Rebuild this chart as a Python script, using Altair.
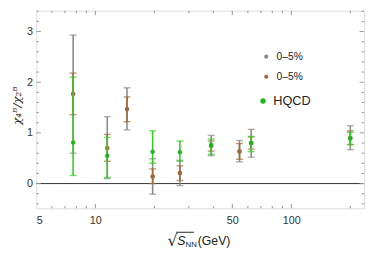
import altair as alt
import pandas as pd

# ---- data ----
energy = [7.7, 11.5, 14.5, 19.6, 27, 39, 54.4, 62.4, 200]

gray_val = [1.77, 0.70, 1.47, 0.14, 0.21, 0.75, 0.64, 0.80, 0.90]
gray_lo = [0.60, 0.10, 1.06, -0.21, -0.04, 0.55, 0.43, 0.52, 0.67]
gray_hi = [2.93, 1.32, 1.89, 0.49, 0.46, 0.95, 0.85, 1.07, 1.14]

brown_val = [1.77, 0.70, 1.47, 0.14, 0.21, 0.74, 0.63, 0.80, 0.90]
brown_lo = [1.36, 0.44, 1.22, 0.00, 0.06, 0.64, 0.48, 0.68, 0.77]
brown_hi = [2.18, 0.97, 1.71, 0.29, 0.35, 0.84, 0.79, 0.92, 1.04]

green_energy = [7.7, 11.5, 19.6, 27, 39, 62.4, 200]
green_val = [0.81, 0.55, 0.63, 0.62, 0.76, 0.80, 0.89]
green_lo = [0.16, 0.12, 0.40, 0.44, 0.58, 0.63, 0.77]
green_hi = [2.10, 0.91, 1.04, 0.84, 0.88, 0.93, 1.01]

legend_labels = ["0\u20135%", "0\u20135%", "HQCD"]

x_major = [10, 50, 100]
x_minor = [6, 7, 8, 9, 20, 30, 40, 60, 70, 80, 90, 200]
x_labels = [5, 10, 50, 100]
y_major = [0, 1, 2, 3]
y_minor = [-0.4, -0.2, 0.2, 0.4, 0.6, 0.8, 1.2, 1.4, 1.6, 1.8, 2.2, 2.4, 2.6, 2.8, 3.2, 3.4]

# ---- styling ----
W, H = 335, 202
GRAY = "#8a8a8a"
BROWN = "#a0693a"
GREEN_BAR = "#33cc22"
GREEN_DOT = "#1db61d"
FONT = "Liberation Sans"

xscale = alt.Scale(type="log", domain=[5, 235], nice=False, zero=False)
yscale = alt.Scale(domain=[-0.488, 3.411], nice=False, zero=False)
xaxis = alt.Axis(values=x_labels, format="d", ticks=False, domain=False, grid=False,
                 labelFontSize=11, labelColor="#333333", labelPadding=7, labelFont=FONT,
                 title=None)
yaxis = alt.Axis(values=y_major, format="d", ticks=False, domain=False, grid=False,
                 labelFontSize=11, labelColor="#333333", labelPadding=4, labelFont=FONT,
                 title=None)


def X(field):
    return alt.X(field, type="quantitative", scale=xscale, axis=xaxis)


def Y(field):
    return alt.Y(field, type="quantitative", scale=yscale, axis=yaxis)


def series(xs, val, lo, hi, bar_color, dot_color):
    df = pd.DataFrame({"e": xs, "v": val, "lo": lo, "hi": hi})
    base = alt.Chart(df)
    bar = base.mark_rule(color=bar_color, strokeWidth=1.6).encode(x=X("e"), y=Y("lo"), y2="hi")
    cap_hi = base.mark_tick(color=bar_color, orient="horizontal", size=7, thickness=1.4).encode(x=X("e"), y=Y("hi"))
    cap_lo = base.mark_tick(color=bar_color, orient="horizontal", size=7, thickness=1.4).encode(x=X("e"), y=Y("lo"))
    dot = base.mark_point(filled=True, color=dot_color, size=20, opacity=1).encode(x=X("e"), y=Y("v"))
    return [bar, cap_hi, cap_lo, dot]


layers = []

# zero line
zero_df = pd.DataFrame({"v": [0]})
layers.append(alt.Chart(zero_df).mark_rule(color="#333333", strokeWidth=1).encode(y=Y("v")))


# inward frame ticks
def xticks(vals, length):
    d = alt.Chart(pd.DataFrame({"t": vals}))
    return [
        d.mark_rule(color="#999999", strokeWidth=1).encode(x=X("t"), y=alt.value(H), y2=alt.value(H - length)),
        d.mark_rule(color="#999999", strokeWidth=1).encode(x=X("t"), y=alt.value(0), y2=alt.value(length)),
    ]


def yticks(vals, length):
    d = alt.Chart(pd.DataFrame({"t": vals}))
    return [
        d.mark_rule(color="#999999", strokeWidth=1).encode(y=Y("t"), x=alt.value(0), x2=alt.value(length)),
        d.mark_rule(color="#999999", strokeWidth=1).encode(y=Y("t"), x=alt.value(W), x2=alt.value(W - length)),
    ]


layers += xticks(x_major, 4.5) + xticks(x_minor, 2.5)
layers += yticks(y_major, 4.5) + yticks(y_minor, 2.5)

layers += series(energy, gray_val, gray_lo, gray_hi, GRAY, GRAY)
layers += series(energy, brown_val, brown_lo, brown_hi, BROWN, BROWN)
layers += series(green_energy, green_val, green_lo, green_hi, GREEN_BAR, GREEN_DOT)

# legend
one = pd.DataFrame({"a": [0]})
leg_y = [47, 67.5, 92.3]
leg_x = [235, 235, 231.7]
leg_col = [GRAY, BROWN, GREEN_DOT]
leg_size = [18, 18, 30]
leg_fs = [10.5, 10.5, 13]
for lab, lx, ly, lc, ls, fs in zip(legend_labels, leg_x, leg_y, leg_col, leg_size, leg_fs):
    layers.append(alt.Chart(one).mark_point(filled=True, color=lc, size=ls, opacity=1)
                  .encode(x=alt.value(lx), y=alt.value(ly)))
    layers.append(alt.Chart(one).mark_text(align="left", baseline="middle", fontSize=fs, font=FONT,
                                           color="#222222")
                  .encode(x=alt.value(lx + 10.5), y=alt.value(ly), text=alt.value(lab)))

# y title
layers.append(alt.Chart(one).mark_text(angle=270, align="center", baseline="middle", fontSize=12,
                                       font="DejaVu Serif", fontStyle="italic", color="#222222")
              .encode(x=alt.value(-20), y=alt.value(97), text=alt.value("\u03c7\u2084\u1d2e/\u03c7\u2082\u1d2e")))

# x title pieces
layers.append(alt.Chart(one).mark_text(align="left", baseline="alphabetic", fontSize=16, font="DejaVu Sans",
                                       color="#222222")
              .encode(x=alt.value(134), y=alt.value(241), text=alt.value("\u221a")))
layers.append(alt.Chart(one).mark_rule(color="#222222", strokeWidth=1)
              .encode(x=alt.value(143), x2=alt.value(161), y=alt.value(226.5)))
layers.append(alt.Chart(one).mark_text(align="left", baseline="alphabetic", fontSize=12.5, font=FONT,
                                       fontStyle="italic", color="#222222")
              .encode(x=alt.value(144), y=alt.value(240), text=alt.value("S")))
layers.append(alt.Chart(one).mark_text(align="left", baseline="alphabetic", fontSize=8, font=FONT,
                                       color="#222222")
              .encode(x=alt.value(152.5), y=alt.value(242), text=alt.value("NN")))
layers.append(alt.Chart(one).mark_text(align="left", baseline="alphabetic", fontSize=12.5, font=FONT,
                                       color="#222222")
              .encode(x=alt.value(165), y=alt.value(240), text=alt.value("(GeV)")))

chart = alt.layer(*layers).properties(
    width=W, height=H,
    autosize=alt.AutoSizeParams(type="none"),
    padding={"left": 29, "top": 0, "right": 2, "bottom": 46},
).configure_view(stroke="#999999", strokeWidth=1).configure(background="white")

chart.save("out.html", embed_options={"renderer": "svg", "actions": False})
